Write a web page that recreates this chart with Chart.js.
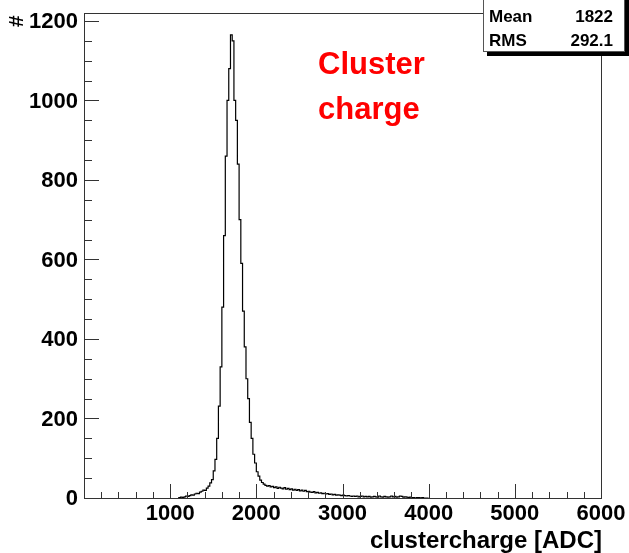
<!DOCTYPE html>
<html>
<head>
<meta charset="utf-8">
<script src="https://cdn.jsdelivr.net/npm/chart.js@4"></script>
<style>
  html, body { margin: 0; padding: 0; background: #fff; }
  #wrap { width: 629px; height: 553px; }
</style>
</head>
<body>
<div id="wrap"><canvas id="c" width="629" height="553"></canvas></div>
<script>
// histogram: 20 ADC bins starting at 1100
const binStart = 1100;
const binWidth = 20;
const counts = [
  0, 1, 2, 1, 3, 5, 4, 6, 8, 7,
  10, 12, 11, 15, 17, 20, 19, 25, 30, 38,
  46, 68, 97, 150, 231, 330, 480, 660, 860, 1000,
  1080, 1165, 1150, 1000, 950, 840, 700, 590, 470, 380,
  300, 250, 190, 150, 110, 88, 66, 55, 45, 39,
  35, 32, 30, 31, 28, 29, 26, 28, 24, 27,
  25, 23, 26, 22, 24, 21, 23, 20, 22, 19,
  21, 18, 20, 17, 19, 16, 17, 15, 14, 16,
  13, 14, 12, 13, 11, 12, 10, 11, 9, 10,
  8, 9, 7, 8, 7, 6, 7, 6, 5, 6,
  5, 4, 5, 4, 5, 3, 4, 5, 3, 4,
  3, 4, 2, 3, 4, 3, 2, 5, 3, 2,
  4, 3, 2, 3, 5, 3, 4, 2, 3, 5,
  4, 2, 3, 2, 1, 2, 1, 1, 0, 1,
  1, 0, 1, 0, 0
];
const xTicks = [1000, 2000, 3000, 4000, 5000, 6000];
const yTicks = [0, 200, 400, 600, 800, 1000, 1200];
const statNames = ['Mean', 'RMS'];
const statValues = ['1822', '292.1'];
const noteLines = ['Cluster', 'charge'];

const points = counts.map((v, i) => ({ x: binStart + i * binWidth, y: v }));
points.push({ x: binStart + counts.length * binWidth, y: 0 });

const FONT = '"Liberation Sans", Arial, sans-serif';

// ROOT style frame, inner ticks, labels, stats box and the red note
const decorations = {
  id: 'decorations',
  afterDraw(chart) {
    const ctx = chart.ctx;
    const a = chart.chartArea;
    const xs = chart.scales.x, ys = chart.scales.y;
    ctx.save();
    ctx.strokeStyle = '#333';
    ctx.lineWidth = 1;
    ctx.strokeRect(Math.round(a.left) + 0.5, Math.round(a.top) + 0.5,
      Math.round(a.right - a.left), Math.round(a.bottom - a.top));

    ctx.beginPath();
    for (let v = 0; v <= 1200; v += 50) {
      const y = Math.round(ys.getPixelForValue(v)) + 0.5;
      const len = v % 200 === 0 ? 15 : 8;
      ctx.moveTo(a.left, y);
      ctx.lineTo(a.left + len, y);
    }
    for (let v = 200; v < 6000; v += 200) {
      const x = Math.round(xs.getPixelForValue(v)) + 0.5;
      const len = v % 1000 === 0 ? 14 : 6;
      ctx.moveTo(x, a.bottom);
      ctx.lineTo(x, a.bottom - len);
    }
    ctx.stroke();

    // tick labels
    ctx.fillStyle = '#000';
    ctx.font = 'bold 22px ' + FONT;
    ctx.textAlign = 'right';
    ctx.textBaseline = 'middle';
    yTicks.forEach(v => ctx.fillText(String(v), a.left - 6, ys.getPixelForValue(v) + 1));
    ctx.textAlign = 'center';
    ctx.textBaseline = 'alphabetic';
    xTicks.forEach(v => ctx.fillText(String(v), xs.getPixelForValue(v), 520));

    // axis titles
    ctx.font = 'bold 24px ' + FONT;
    ctx.textAlign = 'right';
    ctx.fillText('clustercharge [ADC]', a.right + 1, 548);
    ctx.save();
    ctx.translate(23, a.top + 14);
    ctx.rotate(-Math.PI / 2);
    ctx.font = 'bold 21px ' + FONT;
    ctx.textAlign = 'left';
    ctx.fillText('#', 0, 0);
    ctx.restore();

    // stats box with shadow
    ctx.fillStyle = '#000';
    ctx.fillRect(487, -4, 142, 60);
    ctx.fillStyle = '#fff';
    ctx.fillRect(483, -6, 142, 58);
    ctx.strokeStyle = '#555';
    ctx.strokeRect(483.5, -5.5, 141, 57);
    ctx.fillStyle = '#000';
    ctx.font = 'bold 17px ' + FONT;
    ctx.textBaseline = 'middle';
    statNames.forEach((n, i) => {
      const y = 17 + i * 24;
      ctx.textAlign = 'left';
      ctx.fillText(n, 489, y);
      ctx.textAlign = 'right';
      ctx.fillText(statValues[i], 613, y);
    });

    // red annotation
    ctx.fillStyle = '#ff0000';
    ctx.font = 'bold 31px ' + FONT;
    ctx.textAlign = 'left';
    ctx.textBaseline = 'alphabetic';
    noteLines.forEach((t, i) => ctx.fillText(t, 318, 74 + i * 45));
    ctx.restore();
  }
};

new Chart(document.getElementById('c'), {
  type: 'line',
  data: {
    datasets: [{
      data: points,
      stepped: 'after',
      borderColor: '#000',
      borderWidth: 1.2,
      pointRadius: 0,
      fill: false
    }]
  },
  options: {
    responsive: false,
    animation: false,
    layout: { padding: { top: 13, right: 28, left: 0, bottom: 0 } },
    plugins: { legend: { display: false }, tooltip: { enabled: false } },
    scales: {
      x: {
        type: 'linear',
        min: 0,
        max: 6000,
        afterFit: (s) => { s.height = 55; },
        grid: { display: false, drawTicks: false },
        border: { display: false },
        ticks: { display: false }
      },
      y: {
        min: 0,
        max: 1220,
        afterFit: (s) => { s.width = 84; },
        grid: { display: false, drawTicks: false },
        border: { display: false },
        ticks: { display: false }
      }
    }
  },
  plugins: [decorations]
});
</script>
</body>
</html>
